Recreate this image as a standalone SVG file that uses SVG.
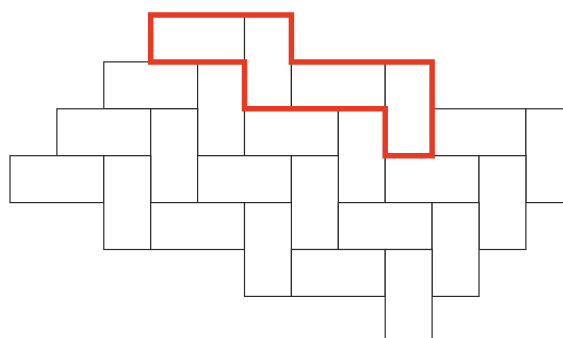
<svg xmlns="http://www.w3.org/2000/svg" width="563" height="338" viewBox="0 0 563 338">
<style>
.h{fill:#fff;stroke:#2a2a2a;stroke-width:1.2}
.v{fill:#fff;stroke:#2a2a2a;stroke-width:1.2}
.outline{fill:none;stroke:#e63a22;stroke-width:5.5;stroke-linejoin:miter}
</style>
<defs>
<rect id="hb" width="93.8" height="46.9"/>
<rect id="vb" width="46.9" height="93.8"/>
</defs>
<rect width="563" height="338" fill="#fff"/>
<g id="bricks">
<g id="row-a">
<use id="a1" href="#hb" class="h" x="150.7" y="15"/>
<use id="a2" href="#vb" class="v" x="244.5" y="15"/>
<use id="a3" href="#hb" class="h" x="291.4" y="61.9"/>
<use id="a4" href="#vb" class="v" x="385.2" y="61.9"/>
<use id="a5" href="#hb" class="h" x="432.1" y="108.8"/>
<use id="a6" href="#vb" class="v" x="525.9" y="108.8"/>
</g>
<g id="row-b">
<use id="b1" href="#hb" class="h" x="103.8" y="61.9"/>
<use id="b2" href="#vb" class="v" x="197.6" y="61.9"/>
<use id="b3" href="#hb" class="h" x="244.5" y="108.8"/>
<use id="b4" href="#vb" class="v" x="338.3" y="108.8"/>
<use id="b5" href="#hb" class="h" x="385.2" y="155.7"/>
<use id="b6" href="#vb" class="v" x="479" y="155.7"/>
</g>
<g id="row-c">
<use id="c1" href="#hb" class="h" x="56.9" y="108.8"/>
<use id="c2" href="#vb" class="v" x="150.7" y="108.8"/>
<use id="c3" href="#hb" class="h" x="197.6" y="155.7"/>
<use id="c4" href="#vb" class="v" x="291.4" y="155.7"/>
<use id="c5" href="#hb" class="h" x="338.3" y="202.6"/>
<use id="c6" href="#vb" class="v" x="432.1" y="202.6"/>
</g>
<g id="row-d">
<use id="d1" href="#hb" class="h" x="10" y="155.7"/>
<use id="d2" href="#vb" class="v" x="103.8" y="155.7"/>
<use id="d3" href="#hb" class="h" x="150.7" y="202.6"/>
<use id="d4" href="#vb" class="v" x="244.5" y="202.6"/>
<use id="d5" href="#hb" class="h" x="291.4" y="249.5"/>
<use id="d6" href="#vb" class="v" x="385.2" y="249.5"/>
</g>
</g>
<g id="highlight">
<path class="outline" d="M150.7,15 H291.4 V61.9 H432.1 V155.7 H385.2 V108.8 H244.5 V61.9 H150.7 Z"/>
</g>
</svg>
